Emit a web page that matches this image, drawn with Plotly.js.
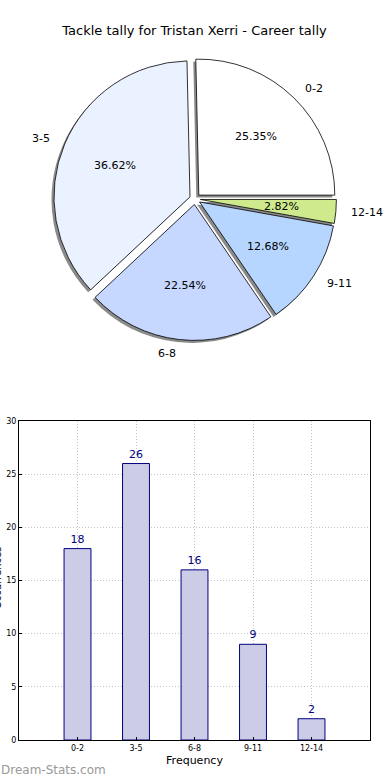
<!DOCTYPE html>
<html>
<head>
<meta charset="utf-8">
<script src="https://cdn.plot.ly/plotly-3.0.1.min.js"></script>
<style>html,body{margin:0;padding:0;background:#fff}#chart{width:390px;height:780px}</style>
</head>
<body>
<div id="chart"></div>
<script>
// ---- data ----
const categories = ['0-2', '3-5', '6-8', '9-11', '12-14'];
const tackles = [18, 26, 16, 9, 2];
const sliceColors = ['#ffffff', '#eaf1ff', '#c6d8ff', '#b6d6ff', '#ceea8c'];
const yTicks = [0, 5, 10, 15, 20, 25, 30];
const chartTitle = 'Tackle tally for Tristan Xerri - Career tally';
const xTitle = 'Frequency';
const yTitle = 'Occurrences';
const watermark = 'Dream-Stats.com';

// ---- layout geometry ----
const W = 390, H = 780;
const M = {l: 19, r: 20, t: 0, b: 40};
const PW = W - M.l - M.r, PH = H - M.t - M.b;
const px2x = px => (px - M.l) / PW;
const px2y = py => (H - M.b - py) / PH;

const pieCx = 195, pieCy = 199, pieR = 136, pull = 0.04;
const half = pieR * (1 + pull);
function dom(dx, dy) {
  return {
    x: [px2x(pieCx - half + dx), px2x(pieCx + half + dx)],
    y: [px2y(pieCy + half + dy), px2y(pieCy - half + dy)]
  };
}
const total = tackles.reduce((a, b) => a + b, 0);
const rotation = 90 - tackles[0] / total * 360;
const FONT = 'DejaVu Sans, sans-serif';

const shadow = {
  type: 'pie', values: tackles, labels: categories, sort: false,
  direction: 'counterclockwise', rotation: rotation,
  pull: tackles.map(() => pull), domain: dom(-2.5, 2.5),
  marker: {colors: tackles.map(() => '#8a8a8a'), line: {width: 0}},
  textinfo: 'none', hoverinfo: 'skip', showlegend: false
};
const pie = {
  type: 'pie', values: tackles, labels: categories, sort: false,
  direction: 'counterclockwise', rotation: rotation,
  pull: tackles.map(() => pull), domain: dom(0, 0),
  marker: {colors: sliceColors, line: {color: '#000000', width: 0.8}},
  textinfo: 'none', hoverinfo: 'skip', showlegend: false
};
const bars = {
  type: 'bar', x: categories, y: tackles, width: 0.46,
  marker: {color: '#cccce6', line: {color: '#000080', width: 1}},
  text: tackles.map(String), textposition: 'outside',
  textfont: {color: '#000080', size: 11, family: FONT},
  cliponaxis: false, hoverinfo: 'skip', showlegend: false
};

// pie text annotations (matplotlib-style: pct at 0.6 r, labels at 1.1 r)
const annotations = [];
let cum = 0;
tackles.forEach((v, i) => {
  const mid = (cum + v / 2) / total * 2 * Math.PI;
  cum += v;
  const off = pull * pieR;
  const c = Math.cos(mid), s = Math.sin(mid);
  const rp = 0.6 * pieR + off, rl = 1.1 * pieR + off;
  annotations.push({
    xref: 'paper', yref: 'paper', showarrow: false,
    x: px2x(pieCx + rp * c), y: px2y(pieCy - rp * s),
    xanchor: 'center', yanchor: 'middle',
    text: (v / total * 100).toFixed(2) + '%',
    font: {family: FONT, size: 11, color: '#000'}
  });
  annotations.push({
    xref: 'paper', yref: 'paper', showarrow: false,
    x: px2x(pieCx + rl * c), y: px2y(pieCy - rl * s),
    xanchor: c >= 0 ? 'left' : 'right', yanchor: 'middle',
    text: categories[i],
    font: {family: FONT, size: 11, color: '#000'}
  });
});
// y-axis title, clipped at the page edge as in the original
annotations.push({
  xref: 'paper', yref: 'paper', showarrow: false,
  x: px2x(-3), y: px2y(578), xanchor: 'center', yanchor: 'middle',
  textangle: -90, text: yTitle,
  font: {family: FONT, size: 10, color: '#000'}
});
annotations.push({
  xref: 'paper', yref: 'paper', showarrow: false,
  x: px2x(-1), y: px2y(770), xanchor: 'left', yanchor: 'middle',
  text: watermark,
  font: {family: FONT, size: 12, color: '#999999'}
});

const layout = {
  width: W, height: H, margin: M,
  paper_bgcolor: '#fff', plot_bgcolor: '#fff',
  font: {family: FONT, color: '#000'},
  title: {text: chartTitle, x: 0.5, xref: 'paper', xanchor: 'center', y: 1 - 30 / H, yanchor: 'middle',
          font: {family: FONT, size: 13, color: '#000'}},
  xaxis: {
    type: 'category', range: [-1, 5], showgrid: true, gridcolor: '#c4c4c4', griddash: '1px,2px', gridwidth: 1,
    showline: true, linecolor: '#000', linewidth: 1, mirror: true,
    ticks: 'inside', ticklen: 3, tickcolor: '#000', tickfont: {size: 8, family: FONT},
    title: {text: xTitle, font: {size: 11, family: FONT}, standoff: 4}, fixedrange: true
  },
  yaxis: {
    domain: [0, px2y(421)], range: [0, 30], tickvals: yTicks, showgrid: true,
    gridcolor: '#c4c4c4', griddash: '1px,2px', gridwidth: 1, zeroline: false,
    showline: true, linecolor: '#000', linewidth: 1, mirror: true,
    ticks: 'inside', ticklen: 3, tickcolor: '#000', tickfont: {size: 8, family: FONT},
    fixedrange: true
  },
  annotations: annotations,
  showlegend: false
};

Plotly.newPlot('chart', [bars, shadow, pie], layout, {displayModeBar: false, staticPlot: true});
</script>
</body>
</html>
